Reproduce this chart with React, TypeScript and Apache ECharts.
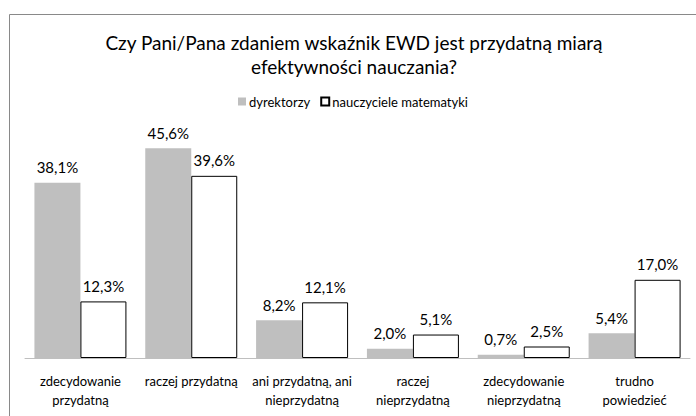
import React, { useEffect, useRef } from "react";
import * as echarts from "echarts";

const categories = [
  "zdecydowanie\nprzydatną",
  "raczej przydatną",
  "ani przydatną, ani\nnieprzydatną",
  "raczej\nnieprzydatną",
  "zdecydowanie\nnieprzydatną",
  "trudno\npowiedzieć",
];
const dyrektorzy = [38.1, 45.6, 8.2, 2.0, 0.7, 5.4];
const nauczyciele = [12.3, 39.6, 12.1, 5.1, 2.5, 17.0];
const seriesNames = ["dyrektorzy", "nauczyciele matematyki"];
const titleText = "Czy Pani/Pana zdaniem wskaźnik EWD jest przydatną miarą\nefektywności nauczania?";

const FONT = "Lato, 'Open Sans', sans-serif";

export default function App() {
  const ref = useRef<HTMLDivElement>(null);
  useEffect(() => {
    const chart = echarts.init(ref.current!, null, { renderer: "svg" });
    const fmt = (p: any) => Number(p.value).toFixed(1).replace(".", ",") + "%";
    chart.setOption({
      animation: false,
      backgroundColor: "#ffffff",
      textStyle: { fontFamily: FONT },
      title: {
        text: titleText,
        left: 349,
        textAlign: "center",
        top: 25,
        textStyle: { fontFamily: FONT, fontSize: 19, fontWeight: "normal", color: "#000", lineHeight: 24 },
      },
      legend: {
        data: seriesNames,
        top: 90,
        left: 233,
        itemWidth: 8,
        itemHeight: 8,
        itemGap: 10,
        icon: "rect",
        textStyle: { fontFamily: FONT, fontSize: 13, color: "#000", padding: [0, 0, 0, -2] },
      },
      graphic: [
        {
          type: "rect",
          shape: { x: 9.5, y: 14.5, width: 720, height: 420 },
          style: { fill: "none", stroke: "#898989", lineWidth: 1 },
          silent: true,
        },
      ],
      grid: { left: 25, right: 6, top: 128, bottom: 58, containLabel: false },
      xAxis: {
        type: "category",
        data: categories,
        axisLine: { lineStyle: { color: "#bfbfbf", width: 1 } },
        axisTick: { show: false },
        axisLabel: { interval: 0, fontFamily: FONT, fontSize: 13, color: "#000", lineHeight: 19, margin: 13 },
      },
      yAxis: {
        type: "value",
        min: 0,
        max: 50,
        show: false,
        splitLine: { show: false },
      },
      series: [
        {
          name: seriesNames[0],
          type: "bar",
          data: dyrektorzy,
          barGap: "0%",
          barCategoryGap: "17%",
          itemStyle: { color: "#bfbfbf" },
          label: { show: true, position: "top", distance: 8, formatter: fmt, fontFamily: FONT, fontSize: 15, color: "#000" },
        },
        {
          name: seriesNames[1],
          type: "bar",
          data: nauczyciele,
          barGap: "0%",
          barCategoryGap: "17%",
          itemStyle: { color: "#ffffff", borderColor: "#000000", borderWidth: 1 },
          label: { show: true, position: "top", distance: 8, formatter: fmt, fontFamily: FONT, fontSize: 15, color: "#000" },
        },
      ],
    });
    return () => chart.dispose();
  }, []);
  return (
    <div
      ref={ref}
      style={{ position: "fixed", left: 0, top: 0, width: 696, height: 416 }}
    />
  );
}
